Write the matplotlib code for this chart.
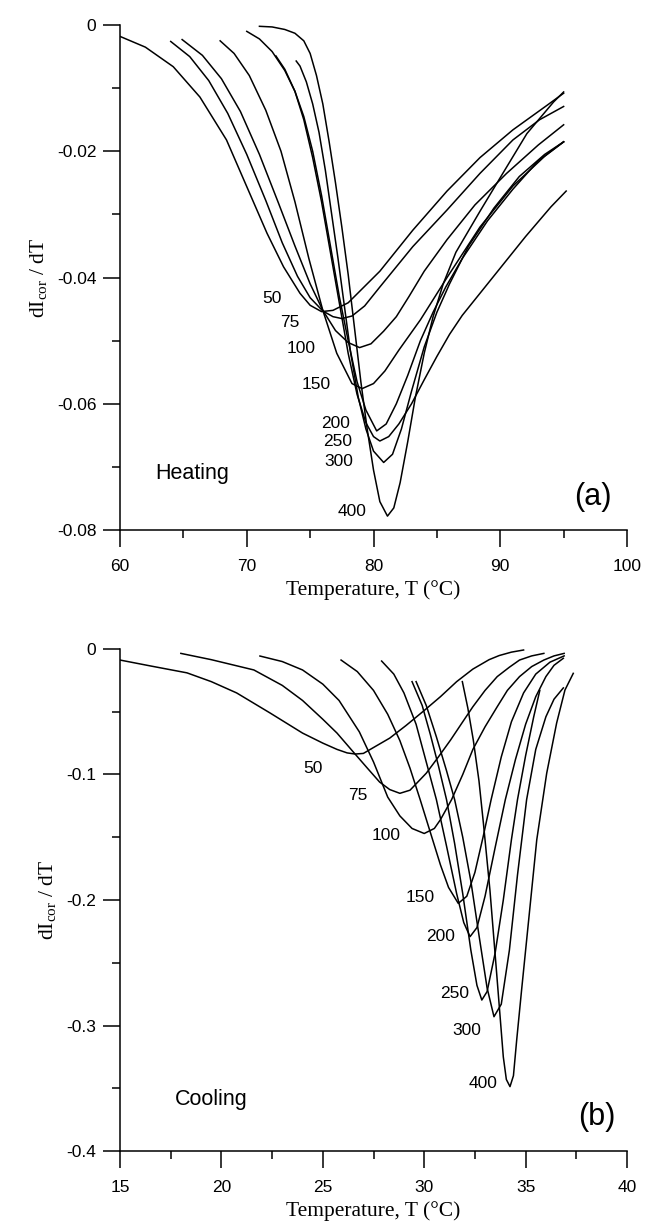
import matplotlib
matplotlib.use("Agg")
import matplotlib.pyplot as plt
from matplotlib.ticker import MultipleLocator

plt.rcParams.update({
    "font.family": ["Liberation Sans", "DejaVu Sans"],
    "mathtext.fontset": "custom",
    "mathtext.rm": "Liberation Serif",
    "mathtext.it": "Liberation Serif:italic",
    "axes.linewidth": 1.1,
})

RATES = ["50", "75", "100", "150", "200", "250", "300", "400"]

# ---- (a) heating : temperature (C) and dI_cor/dT
heat_T = {
    "50": [60.0, 62.0, 64.2, 66.3, 68.4, 70.0, 71.6, 72.9, 74.2, 75.0, 75.9, 76.8, 78.0,
           80.5, 83.1, 85.8, 88.4, 91.0, 93.7, 95.0],
    "75": [64.0, 65.5, 67.0, 68.5, 70.0, 71.5, 72.8, 74.0, 75.0, 76.0, 76.8, 77.5, 78.3,
           79.3, 80.5, 83.1, 85.8, 88.4, 91.0, 93.1, 95.0],
    "100": [64.9, 66.5, 68.0, 69.5, 71.0, 72.5, 73.8, 75.0, 76.0, 77.0, 78.0, 78.9, 79.8,
            80.8, 81.8, 82.8, 84.0, 85.8, 88.0, 90.5, 93.0, 95.0],
    "150": [67.9, 69.0, 70.2, 71.5, 72.7, 73.8, 74.9, 76.0, 77.1, 78.3, 79.1, 80.0, 80.9,
            82.0, 83.7, 85.8, 88.4, 91.0, 93.5, 95.0],
    "200": [70.0, 71.0, 72.0, 73.0, 73.8, 74.5, 75.2, 75.9, 76.6, 77.3, 78.0, 78.7, 79.4,
            80.25, 81.0, 81.8, 82.7, 83.7, 84.7, 85.7, 87.0, 89.0, 91.0, 93.0, 95.0],
    "250": [72.3, 73.0, 73.8, 74.5, 75.2, 75.9, 76.6, 77.3, 78.0, 78.7, 79.4, 80.0, 80.5,
            81.2, 82.0, 83.0, 84.0, 85.0, 86.0, 87.0, 88.4, 90.0, 92.0, 94.0, 95.2],
    "300": [73.9, 74.2, 74.7, 75.2, 75.7, 76.2, 76.7, 77.2, 77.7, 78.2, 78.8, 79.4, 80.0,
            80.8, 81.5, 82.2, 83.0, 84.0, 85.0, 86.0, 87.5, 89.5, 91.5, 93.5, 95.0],
    "400": [71.0, 72.0, 73.0, 73.8, 74.5, 75.0, 75.5, 76.0, 76.5, 77.0, 77.5, 78.0, 78.5,
            79.0, 79.5, 80.0, 80.5, 81.1, 81.6, 82.1, 82.7, 83.3, 84.0, 84.7, 85.5, 86.5,
            88.4, 90.2, 92.1, 94.2, 95.0],
}
heat_v = {
    "50": [-0.0018, -0.0035, -0.0066, -0.0114, -0.0182, -0.0256, -0.0330, -0.0383, -0.0425,
           -0.0444, -0.0454, -0.0452, -0.0440, -0.0390, -0.0325, -0.0263, -0.0210, -0.0166,
           -0.0127, -0.0108],
    "75": [-0.0026, -0.0050, -0.0088, -0.0140, -0.0205, -0.0278, -0.0345, -0.0398, -0.0432,
           -0.0453, -0.0462, -0.0465, -0.0461, -0.0445, -0.0415, -0.0351, -0.0293, -0.0235,
           -0.0182, -0.0150, -0.0129],
    "100": [-0.0023, -0.0048, -0.0085, -0.0137, -0.0205, -0.0282, -0.0350, -0.0410, -0.0452,
            -0.0484, -0.0503, -0.0511, -0.0505, -0.0485, -0.0462, -0.0430, -0.0390, -0.0340,
            -0.0285, -0.0235, -0.0190, -0.0158],
    "150": [-0.0025, -0.0045, -0.0080, -0.0135, -0.0200, -0.0280, -0.0370, -0.0452, -0.0520,
            -0.0568, -0.0576, -0.0568, -0.0548, -0.0515, -0.0467, -0.0400, -0.0320, -0.0255,
            -0.0208, -0.0185],
    "200": [-0.0010, -0.0022, -0.0042, -0.0072, -0.0105, -0.0145, -0.0200, -0.0270, -0.0350,
            -0.0430, -0.0500, -0.0565, -0.0610, -0.0643, -0.0632, -0.0600, -0.0555, -0.0500,
            -0.0455, -0.0415, -0.0370, -0.0310, -0.0260, -0.0215, -0.0185],
    "250": [-0.0049, -0.0070, -0.0105, -0.0150, -0.0210, -0.0280, -0.0360, -0.0440, -0.0520,
            -0.0585, -0.0630, -0.0652, -0.0659, -0.0652, -0.0632, -0.0600, -0.0562, -0.0525,
            -0.0490, -0.0460, -0.0425, -0.0385, -0.0335, -0.0288, -0.0263],
    "300": [-0.0057, -0.0065, -0.0090, -0.0125, -0.0170, -0.0230, -0.0300, -0.0370, -0.0445,
            -0.0520, -0.0590, -0.0640, -0.0675, -0.0693, -0.0680, -0.0640, -0.0580, -0.0510,
            -0.0455, -0.0410, -0.0350, -0.0290, -0.0240, -0.0205, -0.0185],
    "400": [-0.0002, -0.0003, -0.0007, -0.0013, -0.0025, -0.0045, -0.0080, -0.0125, -0.0185,
            -0.0250, -0.0320, -0.0395, -0.0480, -0.0565, -0.0640, -0.0705, -0.0755, -0.0778,
            -0.0765, -0.0725, -0.0660, -0.0590, -0.0520, -0.0462, -0.0410, -0.0360, -0.0295,
            -0.0235, -0.0172, -0.0122, -0.0106],
}
heat_lbl = {"50": (72.0, -0.0433), "75": (73.4, -0.0471), "100": (74.3, -0.0512),
            "150": (75.5, -0.0570), "200": (77.0, -0.0631), "250": (77.15, -0.0659),
            "300": (77.3, -0.0691), "400": (78.3, -0.0771)}

# ---- (b) cooling
cool_T = {
    "50": [15.0, 16.5, 18.3, 19.5, 20.75, 22.4, 24.0, 25.0, 25.7, 26.2, 26.6, 27.0, 27.5,
           28.3, 29.1, 30.0, 30.8, 31.6, 32.4, 33.2, 33.7, 34.3, 34.9],
    "75": [18.0, 19.5, 21.6, 23.0, 24.0, 25.0, 25.7, 26.5, 27.2, 27.8, 28.3, 28.8, 29.3,
           30.1, 30.7, 31.3, 31.9, 32.4, 33.0, 33.6, 34.2, 34.7, 35.3, 35.9],
    "100": [21.9, 23.0, 24.0, 25.0, 25.8, 26.8, 27.5, 28.2, 28.8, 29.4, 30.0, 30.5, 30.8,
            31.35, 31.9, 32.4, 33.0, 33.6, 34.1, 34.7, 35.3, 35.9, 36.4, 36.9],
    "150": [25.9, 26.7, 27.5, 28.2, 28.8, 29.3, 29.8, 30.3, 30.8, 31.2, 31.68, 32.1, 32.5,
            32.9, 33.3, 33.8, 34.3, 34.9, 35.5, 36.2, 36.9],
    "200": [27.9, 28.5, 29.0, 29.6, 30.1, 30.6, 31.1, 31.6, 31.95, 32.26, 32.6, 33.0, 33.5,
            34.0, 34.5, 35.0, 35.5, 36.0, 36.4, 36.86],
    "250": [29.4, 29.9, 30.3, 30.7, 31.1, 31.5, 31.9, 32.3, 32.6, 32.84, 33.1, 33.5, 33.9,
            34.3, 34.6, 35.0, 35.4, 35.7],
    "300": [29.6, 30.1, 30.6, 31.1, 31.5, 31.9, 32.3, 32.7, 33.1, 33.44, 33.8, 34.2, 34.6,
            35.05, 35.5, 36.0, 36.4, 36.86],
    "400": [31.88, 32.15, 32.42, 32.7, 32.92, 33.24, 33.57, 33.9, 34.05, 34.23, 34.4, 34.56,
            34.8, 35.05, 35.55, 36.04, 36.53, 36.94, 37.35],
}
cool_v = {
    "50": [-0.0088, -0.0135, -0.0190, -0.0260, -0.0350, -0.0510, -0.0670, -0.0750, -0.0800,
           -0.0828, -0.0837, -0.0832, -0.0785, -0.0710, -0.0610, -0.0490, -0.0380, -0.0260,
           -0.0160, -0.0085, -0.0052, -0.0025, -0.0008],
    "75": [-0.0035, -0.0085, -0.0167, -0.0290, -0.0410, -0.0560, -0.0670, -0.0820, -0.0950,
           -0.1060, -0.1120, -0.1150, -0.1125, -0.0990, -0.0860, -0.0725, -0.0580, -0.0460,
           -0.0330, -0.0220, -0.0145, -0.0088, -0.0055, -0.0035],
    "100": [-0.0056, -0.0100, -0.0167, -0.0280, -0.0410, -0.0660, -0.0900, -0.1180, -0.1330,
            -0.1430, -0.1470, -0.1430, -0.1360, -0.1200, -0.1000, -0.0800, -0.0620, -0.0460,
            -0.0330, -0.0220, -0.0140, -0.0088, -0.0055, -0.0035],
    "150": [-0.0088, -0.0180, -0.0330, -0.0520, -0.0730, -0.0950, -0.1200, -0.1460, -0.1720,
            -0.1900, -0.2027, -0.1970, -0.1780, -0.1500, -0.1200, -0.0860, -0.0580, -0.0350,
            -0.0200, -0.0105, -0.0055],
    "200": [-0.0096, -0.0200, -0.0350, -0.0600, -0.0900, -0.1200, -0.1570, -0.1950, -0.2180,
            -0.2292, -0.2220, -0.1970, -0.1580, -0.1200, -0.0880, -0.0600, -0.0380, -0.0220,
            -0.0130, -0.0074],
    "250": [-0.0260, -0.0450, -0.0680, -0.0930, -0.1200, -0.1550, -0.1950, -0.2400, -0.2680,
            -0.2797, -0.2730, -0.2420, -0.2000, -0.1520, -0.1200, -0.0850, -0.0540, -0.0330],
    "300": [-0.0260, -0.0450, -0.0700, -0.0970, -0.1200, -0.1500, -0.1850, -0.2280, -0.2700,
            -0.2930, -0.2830, -0.2400, -0.1800, -0.1200, -0.0800, -0.0540, -0.0400, -0.0310],
    "400": [-0.0260, -0.0470, -0.0725, -0.1050, -0.1390, -0.1920, -0.2580, -0.3250, -0.3430,
            -0.3487, -0.3400, -0.3116, -0.2720, -0.2320, -0.1520, -0.0990, -0.0590, -0.0327,
            -0.0194],
}
cool_lbl = {"50": (24.5, -0.095), "75": (26.75, -0.117), "100": (28.1, -0.149),
            "150": (29.8, -0.198), "200": (30.8, -0.2287), "250": (31.5, -0.2744),
            "300": (32.1, -0.3036), "400": (32.9, -0.346)}


def style_axes(ax, xlim, xmaj, ylim, ymaj, yfmt):
    ax.set_xlim(*xlim)
    ax.set_ylim(*ylim)
    for s in ("top", "right"):
        ax.spines[s].set_visible(False)
    ax.xaxis.set_major_locator(MultipleLocator(xmaj))
    ax.xaxis.set_minor_locator(MultipleLocator(xmaj / 2))
    ax.yaxis.set_major_locator(MultipleLocator(ymaj))
    ax.yaxis.set_minor_locator(MultipleLocator(ymaj / 2))
    ax.tick_params(which="major", direction="out", length=12, width=1.1, labelsize=12.5)
    ax.tick_params(which="minor", direction="out", length=6, width=1.1)
    ax.tick_params(axis="x", pad=9)
    ax.tick_params(axis="y", pad=5)
    ax.yaxis.set_major_formatter(plt.FuncFormatter(
        lambda v, p: "0" if abs(v) < 1e-9 else yfmt.format(v)))
    ax.set_xlabel("Temperature, T (°C)", family="Liberation Serif", fontsize=15.5,
                  labelpad=4)
    ax.set_ylabel(r"dI$_{\rm cor}$ / dT", family="Liberation Serif", fontsize=15.5,
                  labelpad=6)


fig = plt.figure(figsize=(6.46, 12.28), dpi=100)
ax1 = fig.add_axes([0.1858, 0.5684, 0.7848, 0.4112])
ax2 = fig.add_axes([0.1858, 0.0627, 0.7848, 0.4088])

for r in RATES:
    ax1.plot(heat_T[r], heat_v[r], color="black", lw=1.1)
    ax1.text(*heat_lbl[r], r, fontsize=12.5, ha="center", va="center")
    ax2.plot(cool_T[r], cool_v[r], color="black", lw=1.1)
    ax2.text(*cool_lbl[r], r, fontsize=12.5, ha="center", va="center")

style_axes(ax1, (60, 100), 10, (-0.08, 0.0), 0.02, "{:.2f}")
style_axes(ax2, (15, 40), 5, (-0.4, 0.0), 0.1, "{:.1f}")

ax1.text(62.8, -0.071, "Heating", fontsize=15.5, ha="left", va="center")
ax1.text(97.3, -0.0747, "(a)", fontsize=22, ha="center", va="center")
ax2.text(17.7, -0.359, "Cooling", fontsize=15.5, ha="left", va="center")
ax2.text(38.5, -0.3727, "(b)", fontsize=22, ha="center", va="center")

fig.savefig("out.png", dpi=100)
